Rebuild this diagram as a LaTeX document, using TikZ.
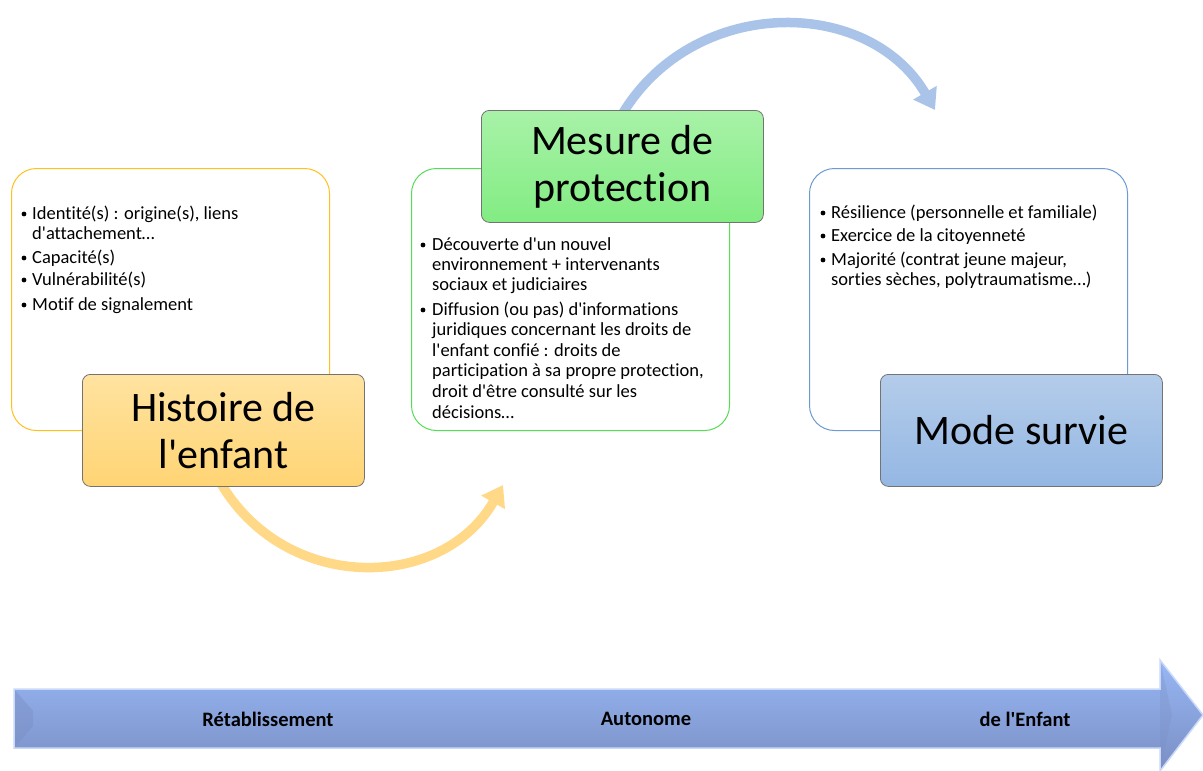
\documentclass[tikz,border=0pt]{standalone}
\usepackage{fontspec}
\setmainfont{Carlito}[Ligatures={TeXOff,CommonOff}]
\usetikzlibrary{arrows.meta}
\definecolor{ybord}{HTML}{FFC11E}
\definecolor{gbord}{HTML}{55DD55}
\definecolor{bbord}{HTML}{6C9BD2}
\definecolor{ytop}{HTML}{FFE3A0}
\definecolor{ybot}{HTML}{FFD474}
\definecolor{gtop}{HTML}{A8F2A8}
\definecolor{gbot}{HTML}{82EC82}
\definecolor{btop}{HTML}{B4CCEA}
\definecolor{bbot}{HTML}{94B7E3}
\definecolor{yarcc}{HTML}{FFD888}
\definecolor{barcc}{HTML}{A9C4E8}
\definecolor{bigtop}{HTML}{98B7F5}
\definecolor{bigmid}{HTML}{7E9EE0}
\definecolor{bigbot}{HTML}{7A8FC4}
\definecolor{bigedge}{HTML}{C9D9F7}
\begin{document}
\begin{tikzpicture}[x=1pt,y=-1pt,
  contentbox/.style={draw, line width=1pt, rounded corners=25pt, fill=white,
    minimum width=318pt, minimum height=262pt, anchor=north west, inner sep=0pt},
  titlebox/.style={draw=black!55, line width=0.8pt, rounded corners=8pt,
    minimum width=282pt, minimum height=112pt, anchor=north west, inner sep=0pt,
    align=center, font=\fontsize{42}{47}\selectfont},
  dot/.style={circle, fill=black, inner sep=0pt, minimum size=4.8pt},
  ln/.style={anchor=base west, inner sep=0pt, font=\fontsize{18.5}{20.5}\selectfont},
  arcline/.style={line width=9.5pt, -{Triangle[length=20pt,width=26pt]}},
  lab/.style={font=\fontsize{20.5}{24}\selectfont\bfseries, inner sep=0pt}
]
\useasboundingbox (0,0) rectangle (1203,771);

% arcs (drawn first, boxes cover the starts)
\coordinate (a1s) at (219,480);
\coordinate (a1e) at (503,485);
\draw[arcline, draw=yarcc, color=yarcc] (a1s) .. controls (283,594) and (442,592) .. (a1e);
\coordinate (a2s) at (620,118);
\coordinate (a2e) at (935,110);
\draw[arcline, draw=barcc, color=barcc] (a2s) .. controls (690,-5) and (868,-5) .. (a2e);

% content boxes
\node[contentbox, draw=ybord] (c1) at (11,168) {};
\node[contentbox, draw=gbord] (c2) at (411,168) {};
\node[contentbox, draw=bbord] (c3) at (809,168) {};

% left bullets
\node[dot] (l1b) at (24,214) {};
\node[ln] (l1a) at (32,219) {Identité(s) : origine(s), liens};
\node[ln] (l1c) at (32,239) {d'attachement…};
\node[dot] (l2b) at (24,258) {};
\node[ln] (l2) at (32,263) {Capacité(s)};
\node[dot] (l3b) at (24,280) {};
\node[ln] (l3) at (32,285) {Vulnérabilité(s)};
\node[dot] (l4b) at (24,305) {};
\node[ln] (l4) at (32,310) {Motif de signalement};

% middle bullets
\node[dot] (m1b) at (423,245) {};
\node[ln] (m1a) at (432,250) {Découverte d'un nouvel};
\node[ln] (m1c) at (432,270) {environnement + intervenants};
\node[ln] (m1d) at (432,290) {sociaux et judiciaires};
\node[dot] (m2b) at (423,310) {};
\node[ln] (m2a) at (432,315) {Diffusion (ou pas) d'informations};
\node[ln] (m2c) at (432,335) {juridiques concernant les droits de};
\node[ln] (m2d) at (432,356) {l'enfant confié : droits de};
\node[ln] (m2e) at (432,376) {participation à sa propre protection,};
\node[ln] (m2f) at (432,397) {droit d'être consulté sur les};
\node[ln] (m2g) at (432,418) {décisions…};

% right bullets
\node[dot] (r1b) at (823,213) {};
\node[ln] (r1) at (831,218) {Résilience (personnelle et familiale)};
\node[dot] (r2b) at (823,236) {};
\node[ln] (r2) at (831,241) {Exercice de la citoyenneté};
\node[dot] (r3b) at (823,260) {};
\node[ln] (r3a) at (831,265) {Majorité (contrat jeune majeur,};
\node[ln] (r3c) at (831,285) {sorties sèches, polytraumatisme…)};

% title boxes
\node[titlebox, top color=ytop, bottom color=ybot] (t1) at (82,374) {Histoire de\\l'enfant};
\node[titlebox, top color=gtop, bottom color=gbot] (t2) at (481,110) {Mesure de\\protection};
\node[titlebox, top color=btop, bottom color=bbot] (t3) at (880,374) {Mode survie};

% bottom big arrow
\coordinate (p1) at (14,689);
\coordinate (p2) at (1160,689);
\coordinate (p3) at (1160,660);
\coordinate (p4) at (1203,715);
\coordinate (p5) at (1160,771);
\coordinate (p6) at (1160,748);
\coordinate (p7) at (14,748);
\shade[top color=bigtop, middle color=bigmid, bottom color=bigbot]
  (p1) -- (p2) -- (p3) -- (p4) -- (p5) -- (p6) -- (p7) -- cycle;
\coordinate (n1) at (33,711);
\coordinate (n2) at (33,726);
\fill[bigbot, opacity=0.45] (p1) -- (n1) -- (n2) -- (p7) -- cycle;
\coordinate (h1) at (1172,715);
\fill[bigbot, opacity=0.3] (p3) -- (h1) -- (p5) -- cycle;
\draw[bigedge, line width=1.5pt, line join=miter]
  (p1) -- (p2) -- (p3) -- (p4) -- (p5) -- (p6) -- (p7) -- cycle;

\node[lab] (x1) at (268,719) {Rétablissement};
\node[lab] (x2) at (646,719) {Autonome};
\node[lab] (x3) at (1025,719) {de l'Enfant};
\end{tikzpicture}
\end{document}
